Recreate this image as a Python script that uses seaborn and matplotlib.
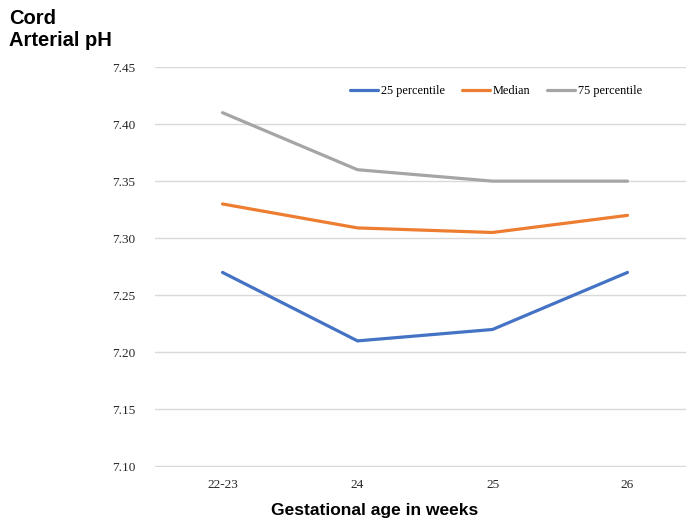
import matplotlib
matplotlib.use("Agg")
import matplotlib.pyplot as plt
import seaborn as sns
import pandas as pd

# Gestational age groups and cord arterial pH percentiles
weeks = ["22-23", "24", "25", "26"]
p25 = [7.27, 7.21, 7.22, 7.27]
median = [7.33, 7.309, 7.305, 7.32]
p75 = [7.41, 7.36, 7.35, 7.35]
series_names = ["25 percentile", "Median", "75 percentile"]
y_ticks = [7.10, 7.15, 7.20, 7.25, 7.30, 7.35, 7.40, 7.45]

df = pd.DataFrame({
    "week": weeks * 3,
    "pH": p25 + median + p75,
    "series": [s for s in series_names for _ in weeks],
})

sns.set_theme(style="white")
plt.rcParams["font.family"] = ["Liberation Serif", "DejaVu Serif"]
plt.rcParams["text.color"] = "black"

fig = plt.figure(figsize=(6.89, 5.22), dpi=100)
ax = fig.add_axes([0.225, 0.1054, 0.77, 0.7662])

palette = {"25 percentile": "#4472C4", "Median": "#ED7D31", "75 percentile": "#A5A5A5"}
sns.lineplot(data=df, x="week", y="pH", hue="series", palette=palette,
             linewidth=2.3, sort=False, ax=ax)

ax.set_ylim(7.0995, 7.45)
ax.set_xlim(-0.5, 3.43)
ax.set_yticks(y_ticks)
ax.set_yticklabels([f"{v:.2f}" for v in y_ticks])
ax.yaxis.grid(True, color="#D9D9D9", linewidth=1)
ax.xaxis.grid(False)
for s in ax.spines.values():
    s.set_visible(False)
ax.tick_params(axis="both", length=0, labelsize=9.5, colors="#262626")
ax.tick_params(axis="y", pad=14)
ax.tick_params(axis="x", pad=9)
ax.set_xlabel("")
ax.set_ylabel("")

ax.legend(loc="upper center", bbox_to_anchor=(0.643, 0.983), ncol=3, frameon=False,
          fontsize=8.8, handlelength=2.3, handletextpad=0.25, columnspacing=1.35)

fig.text(0.013, 0.982, "Cord\nArterial pH", ha="left", va="top", fontsize=14.5,
         fontweight="bold", family=["Liberation Sans", "DejaVu Sans"], linespacing=1.2,
         color="black")
fig.text(0.543, 0.008, "Gestational age in weeks", ha="center", va="bottom", fontsize=12.5,
         fontweight="bold", family=["Liberation Sans", "DejaVu Sans"], color="black")

fig.savefig("out.png", dpi=100)
